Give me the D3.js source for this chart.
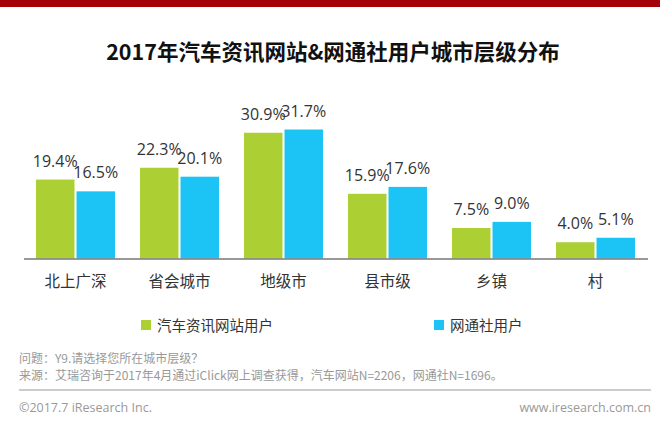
<!DOCTYPE html>
<html><head><meta charset="utf-8">
<script src="https://d3js.org/d3.v7.min.js"></script>
<style>html,body{margin:0;padding:0;background:#fff}svg{display:block}text{font-family:"Noto Sans CJK SC","Open Sans",sans-serif}</style>
</head><body><svg id="c" width="660" height="433"></svg>
<script>
const categories=["北上广深","省会城市","地级市","县市级","乡镇","村"];
const seriesNames=["汽车资讯网站用户","网通社用户"];
const autoSites=[19.4,22.3,30.9,15.9,7.5,4.0];
const wangtong=[16.5,20.1,31.7,17.6,9.0,5.1];
const colors=["#acd034","#1cc3f5"];
const titleText="2017年汽车资讯网站&网通社用户城市层级分布";
const note1="问题：Y9.请选择您所在城市层级？";
const note2="来源：艾瑞咨询于2017年4月通过iClick网上调查获得，汽车网站N=2206，网通社N=1696。";
const copyright="©2017.7 iResearch Inc.";
const site="www.iresearch.com.cn";

const svg=d3.select("#c");
const x=d3.scaleBand().domain(categories).range([23.5,647.5]);
const y=d3.scaleLinear().domain([0,31.7]).range([258.5,129.5]);
const sub=d3.scaleBand().domain([0,1]).range([12.5,x.bandwidth()-12.5]).paddingInner(0.05);

svg.append("rect").attr("width",660).attr("height",7).attr("fill","#a30008");
svg.append("text").attr("x",333).attr("y",60).attr("text-anchor","middle")
  .attr("font-size",21.5).attr("font-weight",700).attr("fill","#111").text(titleText);

[autoSites,wangtong].forEach((vals,s)=>{
  const g=svg.append("g");
  g.selectAll("rect").data(vals).join("rect")
    .attr("x",(d,i)=>x(categories[i])+sub(s))
    .attr("width",sub.bandwidth())
    .attr("y",d=>y(d)).attr("height",d=>y(0)-y(d)).attr("fill",colors[s]);
  g.selectAll("text").data(vals).join("text")
    .attr("x",(d,i)=>x(categories[i])+sub(s)+sub.bandwidth()/2)
    .attr("y",d=>y(d)-13).attr("text-anchor","middle")
    .attr("font-size",16).attr("fill","#333")
    .style("font-family",'"Open Sans",sans-serif')
    .text(d=>d.toFixed(1)+"%");
});

const axis=svg.append("g").attr("transform","translate(0,258.5)")
  .call(d3.axisBottom(x).tickSize(0).tickPadding(17));
axis.select(".domain").attr("stroke","#777").attr("stroke-width",1.5);
axis.selectAll("text").attr("font-size",15.5).attr("fill","#333");

const legendX=[141,434];
seriesNames.forEach((n,i)=>{
  svg.append("rect").attr("x",legendX[i]).attr("y",320).attr("width",10).attr("height",10).attr("fill",colors[i]);
  svg.append("text").attr("x",legendX[i]+16).attr("y",331).attr("font-size",14.5).attr("fill","#333").text(n);
});

svg.append("text").attr("x",19).attr("y",363).attr("font-size",12).attr("fill","#999").text(note1);
svg.append("text").attr("x",19).attr("y",380).attr("font-size",12).attr("fill","#999").text(note2);
svg.append("line").attr("x1",19).attr("x2",651).attr("y1",390).attr("y2",390).attr("stroke","#999").attr("stroke-width",1);
svg.append("text").attr("x",19).attr("y",412).attr("font-size",12.5).attr("fill","#999").style("font-family",'"Open Sans",sans-serif').text(copyright);
svg.append("text").attr("x",651).attr("y",412).attr("text-anchor","end").attr("font-size",12.5).attr("fill","#999").style("font-family",'"Open Sans",sans-serif').text(site);
</script></body></html>
